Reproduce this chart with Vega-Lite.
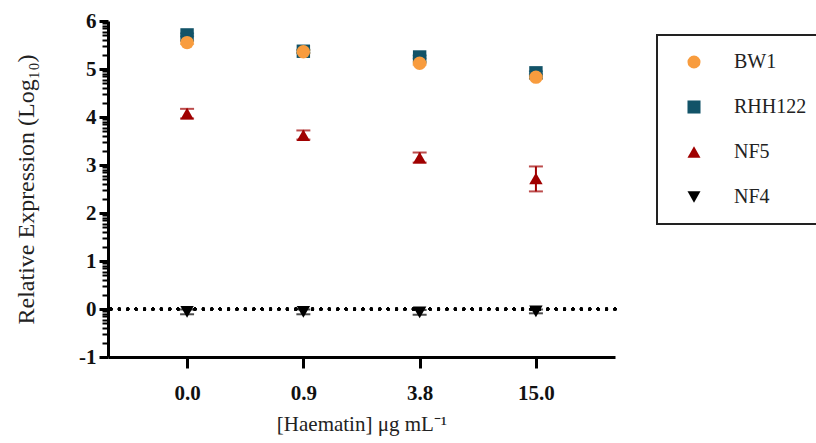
{
  "$schema": "https://vega.github.io/schema/vega-lite/v6.json",
  "width": 507,
  "height": 336,
  "autosize": {"type": "none"},
  "padding": {"left": 108, "top": 21, "right": 201, "bottom": 86},
  "background": "white",
  "config": {
    "view": {"stroke": null},
    "font": "Liberation Serif"
  },
  "data": {
    "values": [
      {"strain": "RHH122", "conc": "0.0", "mean": 5.71, "lo": 5.68, "hi": 5.74},
      {"strain": "RHH122", "conc": "0.9", "mean": 5.37, "lo": 5.34, "hi": 5.40},
      {"strain": "RHH122", "conc": "3.8", "mean": 5.25, "lo": 5.22, "hi": 5.28},
      {"strain": "RHH122", "conc": "15.0", "mean": 4.92, "lo": 4.89, "hi": 4.95},
      {"strain": "BW1", "conc": "0.0", "mean": 5.55, "lo": 5.52, "hi": 5.58},
      {"strain": "BW1", "conc": "0.9", "mean": 5.36, "lo": 5.33, "hi": 5.39},
      {"strain": "BW1", "conc": "3.8", "mean": 5.12, "lo": 5.09, "hi": 5.15},
      {"strain": "BW1", "conc": "15.0", "mean": 4.83, "lo": 4.80, "hi": 4.86},
      {"strain": "NF5", "conc": "0.0", "mean": 4.07, "lo": 3.97, "hi": 4.17},
      {"strain": "NF5", "conc": "0.9", "mean": 3.62, "lo": 3.53, "hi": 3.72},
      {"strain": "NF5", "conc": "3.8", "mean": 3.15, "lo": 3.05, "hi": 3.26},
      {"strain": "NF5", "conc": "15.0", "mean": 2.72, "lo": 2.45, "hi": 2.97},
      {"strain": "NF4", "conc": "0.0", "mean": -0.06, "lo": -0.11, "hi": -0.01},
      {"strain": "NF4", "conc": "0.9", "mean": -0.06, "lo": -0.11, "hi": -0.01},
      {"strain": "NF4", "conc": "3.8", "mean": -0.07, "lo": -0.12, "hi": -0.02},
      {"strain": "NF4", "conc": "15.0", "mean": -0.05, "lo": -0.09, "hi": -0.01}
    ]
  },
  "encoding": {
    "x": {
      "field": "conc",
      "type": "ordinal",
      "sort": ["0.0", "0.9", "3.8", "15.0"],
      "scale": {"type": "point", "padding": 0.68},
      "axis": {
        "title": "[Haematin] μg mL⁻¹",
        "titleFont": "Liberation Serif",
        "titleFontSize": 21,
        "titleFontWeight": "normal",
        "titleColor": "#222",
        "titlePadding": 10,
        "labelFont": "Liberation Serif",
        "labelFontSize": 21,
        "labelFontWeight": "bold",
        "labelColor": "#111",
        "labelAngle": 0,
        "labelPadding": 14,
        "domainColor": "black",
        "domainWidth": 3,
        "tickColor": "black",
        "tickWidth": 3,
        "tickSize": 11,
        "grid": false
      }
    }
  },
  "layer": [
    {
      "mark": {"type": "rule", "color": "black", "strokeWidth": 3, "strokeDash": [0.1, 8.3], "strokeCap": "round"},
      "encoding": {
        "x": null,
        "y": {
          "datum": 0,
          "type": "quantitative",
          "scale": {"domain": [-1, 6], "nice": false, "zero": false},
          "axis": {
            "orient": "left",
            "title": null,
            "labels": false,
            "domain": false,
            "grid": false,
            "tickColor": "black",
            "tickWidth": 2,
            "tickSize": 6,
            "values": [-0.699, -0.523, -0.398, -0.301, -0.222, -0.155, -0.097, -0.046,
              0.301, 0.477, 0.602, 0.699, 0.778, 0.845, 0.903, 0.954,
              1.301, 1.477, 1.602, 1.699, 1.778, 1.845, 1.903, 1.954,
              2.301, 2.477, 2.602, 2.699, 2.778, 2.845, 2.903, 2.954,
              3.301, 3.477, 3.602, 3.699, 3.778, 3.845, 3.903, 3.954,
              4.301, 4.477, 4.602, 4.699, 4.778, 4.845, 4.903, 4.954,
              5.301, 5.477, 5.602, 5.699, 5.778, 5.845, 5.903, 5.954]
          }
        }
      }
    },
    {
      "mark": {"type": "rule", "strokeWidth": 2},
      "encoding": {
        "y": {"field": "lo", "type": "quantitative", "axis": null},
        "y2": {"field": "hi"},
        "color": {"field": "strain", "type": "nominal", "scale": {"domain": ["BW1", "RHH122", "NF5", "NF4"], "range": ["#F89C3E", "#125368", "#A00000", "#000000"]}}
      }
    },
    {
      "mark": {"type": "tick", "orient": "horizontal", "size": 14, "thickness": 2},
      "encoding": {
        "y": {"field": "lo", "type": "quantitative", "axis": null},
        "color": {"field": "strain", "type": "nominal"}
      }
    },
    {
      "mark": {"type": "tick", "orient": "horizontal", "size": 14, "thickness": 2},
      "encoding": {
        "y": {"field": "hi", "type": "quantitative", "axis": null},
        "color": {"field": "strain", "type": "nominal"}
      }
    },
    {
      "mark": {"type": "point", "filled": true, "opacity": 1, "size": 180},
      "encoding": {
        "y": {
          "field": "mean",
          "type": "quantitative",
          "axis": {
            "orient": "left",
            "title": "Relative Expression (Log₁₀)",
            "titleFont": "Liberation Serif",
            "titleFontSize": 24,
            "titleFontWeight": "normal",
            "titleColor": "#222",
            "titlePadding": 40,
            "labelFont": "Liberation Serif",
            "labelFontSize": 21,
            "labelFontWeight": "bold",
            "labelColor": "#111",
            "labelPadding": 3,
            "labelOverlap": false,
            "labelExpr": "'' + datum.value",
            "domainColor": "black",
            "domainWidth": 3,
            "tickColor": "black",
            "tickWidth": 3,
            "tickSize": 9,
            "grid": false,
            "values": [-1, 0, 1, 2, 3, 4, 5, 6]
          }
        },
        "color": {
          "field": "strain",
          "type": "nominal",
          "legend": {
            "title": null,
            "orient": "none",
            "legendX": 549,
            "legendY": 14,
            "strokeColor": "#222",
            "cornerRadius": 0,
            "padding": 17,
            "rowPadding": 25,
            "symbolSize": 170,
            "symbolOffset": 10,
            "symbolOpacity": 1,
            "symbolStrokeWidth": 0,
            "labelFont": "Liberation Serif",
            "labelFontSize": 20,
            "labelColor": "#222",
            "labelOffset": 30,
            "encode": {"legend": {"update": {"strokeWidth": {"value": 2}}}}
          }
        },
        "shape": {
          "field": "strain",
          "type": "nominal",
          "scale": {"domain": ["BW1", "RHH122", "NF5", "NF4"], "range": ["circle", "square", "triangle-up", "triangle-down"]},
          "legend": {
            "title": null,
            "orient": "none",
            "legendX": 549,
            "legendY": 14,
            "strokeColor": "#222",
            "cornerRadius": 0,
            "padding": 17,
            "rowPadding": 25,
            "symbolSize": 170,
            "symbolOffset": 10,
            "symbolOpacity": 1,
            "symbolStrokeWidth": 0,
            "labelFont": "Liberation Serif",
            "labelFontSize": 20,
            "labelColor": "#222",
            "labelOffset": 30,
            "encode": {"legend": {"update": {"strokeWidth": {"value": 2}}}}
          }
        }
      }
    }
  ],
  "resolve": {"axis": {"y": "independent"}}
}
